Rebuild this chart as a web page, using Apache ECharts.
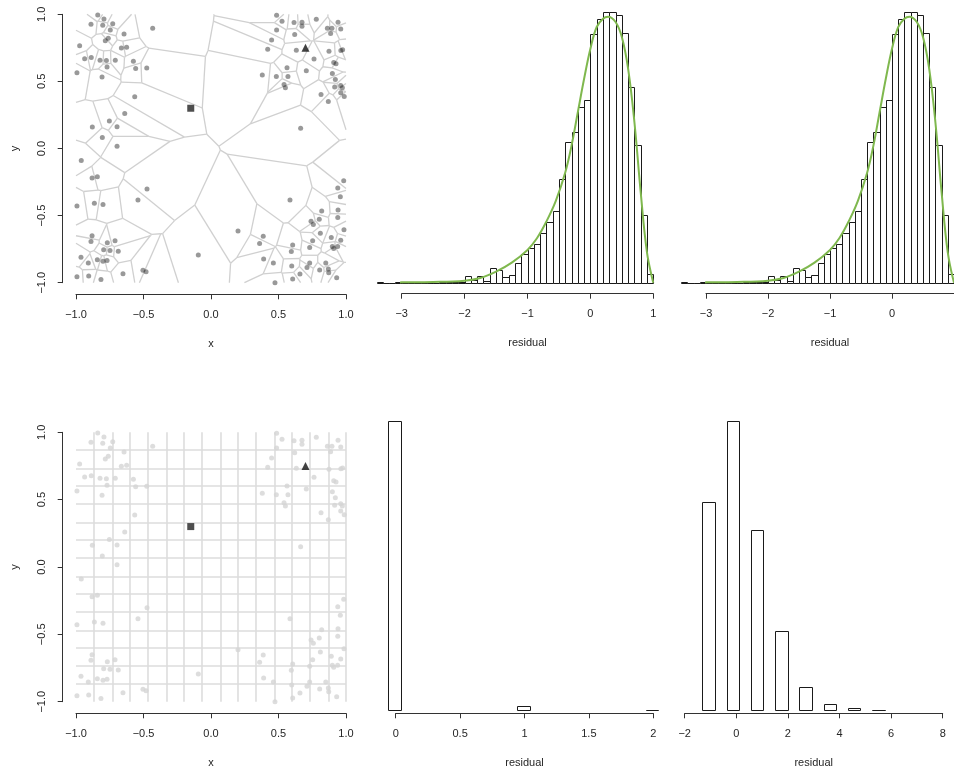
<!DOCTYPE html>
<html><head><meta charset="utf-8">
<script src="https://cdn.jsdelivr.net/npm/echarts@6/dist/echarts.min.js"></script>
<style>html,body{margin:0;padding:0;background:#fff}#c{width:954px;height:772px}</style>
</head><body><div id="c"></div>
<script>
// ---- point locations ----
const pointX = [-0.839,-0.793,-0.889,-0.802,-0.728,-0.746,-0.432,-0.644,-0.761,-0.783,-0.973,-0.664,-0.625,-0.936,-0.887,-0.822,-0.775,-0.709,-0.575,-0.770,-0.558,-0.476,-0.993,-0.807,-0.565,-0.639,-0.753,-0.879,-0.696,-0.805,-0.696,
0.486,0.526,0.615,0.674,0.674,0.780,0.941,0.862,0.896,0.961,0.486,0.886,0.620,0.449,0.420,0.632,0.874,0.962,0.975,0.763,0.909,0.926,0.563,0.706,0.380,0.484,0.570,0.899,0.921,0.541,0.551,0.916,0.961,0.973,0.961,0.987,0.815,0.869,0.664,
-0.961,-0.881,-0.842,-0.474,-0.541,-0.993,-0.864,-0.800,-0.881,-0.889,-0.768,-0.711,-0.795,-0.748,-0.687,-0.963,-0.909,-0.842,-0.800,-0.770,-0.094,-0.993,-0.906,-0.815,-0.652,-0.504,-0.481,
0.983,0.939,0.958,0.585,0.820,0.941,0.939,0.802,0.741,0.758,0.200,0.985,0.810,0.387,0.891,0.961,0.753,0.360,0.605,0.899,0.909,0.938,0.595,0.731,0.390,0.462,0.598,0.731,0.711,0.850,0.805,0.869,0.872,0.659,0.605,0.931,0.474];
const pointY = [0.995,0.965,0.926,0.918,0.930,0.883,0.896,0.854,0.822,0.802,0.765,0.748,0.755,0.668,0.678,0.658,0.656,0.658,0.651,0.607,0.596,0.599,0.564,0.532,0.386,0.260,0.205,0.161,0.163,0.082,0.017,
0.993,0.948,0.938,0.941,0.911,0.963,0.941,0.896,0.896,0.891,0.883,0.856,0.849,0.809,0.740,0.733,0.725,0.730,0.735,0.666,0.641,0.631,0.601,0.579,0.547,0.537,0.537,0.559,0.514,0.477,0.453,0.458,0.470,0.453,0.416,0.388,0.403,0.351,0.151,
-0.089,-0.220,-0.210,-0.302,-0.384,-0.428,-0.408,-0.418,-0.651,-0.693,-0.703,-0.688,-0.755,-0.760,-0.765,-0.811,-0.854,-0.829,-0.841,-0.834,-0.794,-0.955,-0.950,-0.977,-0.933,-0.908,-0.918,
-0.240,-0.295,-0.359,-0.384,-0.465,-0.458,-0.515,-0.527,-0.542,-0.567,-0.614,-0.606,-0.631,-0.653,-0.663,-0.683,-0.688,-0.708,-0.720,-0.730,-0.745,-0.730,-0.767,-0.737,-0.824,-0.854,-0.876,-0.854,-0.886,-0.854,-0.906,-0.898,-0.926,-0.935,-0.972,-0.963,-1.000];
const squarePoint = [-0.15, 0.30];
const trianglePoint = [0.70, 0.75];

// ---- residual histogram (top row) ----
const topBinEdges = [-3.4,-3.3,-3.2,-3.1,-3.0,-2.9,-2.8,-2.7,-2.6,-2.5,-2.4,-2.3,-2.2,-2.1,-2.0,-1.9,-1.8,-1.7,-1.6,-1.5,-1.4,-1.3,-1.2,-1.1,-1.0,-0.9,-0.8,-0.7,-0.6,-0.5,-0.4,-0.3,-0.2,-0.1,0.0,0.1,0.2,0.3,0.4,0.5,0.6,0.7,0.8,0.9,1.0];
const topCounts = [2,0,0,2,0,0,0,0,0.5,0.5,1,1,2,2,21,8,21,4,43,38,17,24,58,85,103,117,148,181,216,310,422,450,526,546,745,789,809,809,802,747,585,412,203,25];
const curveX = [-3.4,-3.0,-2.5,-2.0,-1.75,-1.5,-1.25,-1.0,-0.85,-0.7,-0.55,-0.4,-0.3,-0.2,-0.1,0.0,0.1,0.2,0.28,0.4,0.5,0.6,0.7,0.8,0.9,1.0];
const curveY = [0,1,2,6,14,33,60,98,133,183,245,330,410,510,610,700,765,790,796,780,735,640,480,270,90,0];

// ---- bottom row histograms ----
const bmLeft = [-0.06, 0.94, 1.94];
const bmRight = [0.04, 1.04, 2.04];
const bmCounts = [289, 4.7, 0.7];
const brLeft = [-1.318,-0.372,0.570,1.512,2.442,3.388,4.330,5.270];
const brRight = [-0.826,0.116,1.047,1.992,2.934,3.876,4.810,5.750];
const brCounts = [208,289,180,79,23,6.7,2,0.7];

// regular grid of 15 x 15 cells over [-1, 1]^2
const gridCells = 15;
const gridLineX = [];
for (let k = 1; k <= gridCells; k++) gridLineX.push(-1 + 2 * k / gridCells);
const gridLineY = [];
for (let k = 1; k < gridCells; k++) gridLineY.push(-1 + 2 * k / gridCells);

// Voronoi tessellation computed from the points (half-plane clipping)
function voronoiEdges(xs, ys, x0, x1, y0, y1) {
  const n = xs.length, edges = [];
  for (let i = 0; i < n; i++) {
    let poly = [{x:x0,y:y0,l:-1},{x:x1,y:y0,l:-1},{x:x1,y:y1,l:-1},{x:x0,y:y1,l:-1}];
    for (let j = 0; j < n && poly.length; j++) {
      if (j === i) continue;
      const a = xs[j]-xs[i], b = ys[j]-ys[i];
      if (a === 0 && b === 0) continue;
      const c = a*(xs[i]+xs[j])/2 + b*(ys[i]+ys[j])/2;
      const out = [];
      for (let k = 0; k < poly.length; k++) {
        const cur = poly[k], nxt = poly[(k+1)%poly.length];
        const fc = a*cur.x+b*cur.y-c, fn = a*nxt.x+b*nxt.y-c;
        if (fc <= 0) {
          out.push(cur);
          if (fn > 0) { const t = fc/(fc-fn); out.push({x:cur.x+t*(nxt.x-cur.x), y:cur.y+t*(nxt.y-cur.y), l:j}); }
        } else if (fn <= 0) {
          const t = fc/(fc-fn); out.push({x:cur.x+t*(nxt.x-cur.x), y:cur.y+t*(nxt.y-cur.y), l:cur.l});
        }
      }
      poly = out;
    }
    for (let k = 0; k < poly.length; k++) {
      const cur = poly[k], nxt = poly[(k+1)%poly.length];
      if (cur.l > i) edges.push([cur.x, cur.y, nxt.x, nxt.y]);
    }
  }
  return edges;
}

const pts = pointX.map((x, i) => [x, pointY[i]]);
const vEdges = voronoiEdges(pointX, pointY, -1, 1, -1, 1);
const topBins = topCounts.map((c, i) => [topBinEdges[i], topBinEdges[i+1], c]);
const curve = curveX.map((x, i) => [x, curveY[i]]);
const bmBins = bmCounts.map((c, i) => [bmLeft[i], bmRight[i], c]);
const brBins = brCounts.map((c, i) => [brLeft[i], brRight[i], c]);

const FONT = 'Liberation Sans, Arial, Helvetica, sans-serif';
const TXT = '#262626';
const minus = s => String(s).replace('-', '\u2212');

function dispAxis(grid, min, max, interval, offset, name, fmt, showMax) {
  return {
    type: 'value', gridIndex: grid, min, max, interval, offset, position: 'bottom',
    name, nameLocation: 'middle', nameGap: 44,
    nameTextStyle: {fontFamily: FONT, fontSize: 11, color: TXT},
    axisLine: {show: true, onZero: false, lineStyle: {color: '#333', width: 1}},
    axisTick: {show: true, length: 5, lineStyle: {color: '#333', width: 1}},
    axisLabel: {show: true, margin: 15, fontFamily: FONT, fontSize: 11, color: TXT, formatter: fmt,
      showMaxLabel: showMax === false ? false : true},
    splitLine: {show: false}
  };
}
function yDisp(grid, offset) {
  return {
    type: 'value', gridIndex: grid, min: -1, max: 1, interval: 0.5, offset, position: 'left',
    name: 'y', nameLocation: 'middle', nameGap: 42,
    nameTextStyle: {fontFamily: FONT, fontSize: 11, color: TXT},
    axisLine: {show: true, onZero: false, lineStyle: {color: '#333', width: 1}},
    axisTick: {show: true, length: 5, lineStyle: {color: '#333', width: 1}},
    axisLabel: {show: true, rotate: 90, margin: 15, fontFamily: FONT, fontSize: 11, color: TXT,
      formatter: v => minus(v.toFixed(1))},
    splitLine: {show: false}
  };
}
function yHidden(grid, max) {
  return {type: 'value', gridIndex: grid, min: 0, max, show: false, splitLine: {show: false}};
}
function histRender(params, api) {
  const p0 = api.coord([api.value(0), 0]);
  const p1 = api.coord([api.value(1), api.value(2)]);
  const L = Math.round(p0[0]) + 0.5, R = Math.round(p1[0]) + 0.5;
  const B = Math.round(p0[1]) + 0.5, T = Math.round(p1[1]) + 0.5;
  return {type: 'rect', shape: {x: L, y: T, width: R - L, height: B - T},
    style: {fill: '#fff', stroke: '#1a1a1a', lineWidth: 1}};
}
function histSeries(ax, data) {
  return {type: 'custom', xAxisIndex: ax, yAxisIndex: ax, data, encode: {x: [0, 1], y: 2},
    renderItem: histRender, clip: false, silent: true, z: 2};
}
function curveSeries(ax) {
  return {type: 'line', xAxisIndex: ax, yAxisIndex: ax, data: curve, smooth: 0.4, symbol: 'none',
    clip: false, lineStyle: {color: '#7fb84e', width: 2}, z: 3, silent: true};
}
const sFmt = v => minus(v.toFixed(1));

const option = {
  animation: false,
  backgroundColor: '#ffffff',
  grid: [
    {left: 76, top: 14.3, width: 270, height: 268.4},
    {left: 401.7, top: 12.3, width: 251.6, height: 270.4},
    {left: 706, top: 12.3, width: 250.8, height: 270.4},
    {left: 76, top: 432.3, width: 270, height: 269.4},
    {left: 395.7, top: 421.3, width: 257.6, height: 289},
    {left: 684.7, top: 421.3, width: 258, height: 289}
  ],
  xAxis: [
    dispAxis(0, -1, 1, 0.5, 11.6, 'x', sFmt),
    dispAxis(1, -3, 1, 1, 11, 'residual', v => minus(v)),
    dispAxis(2, -3, 1, 1, 11, 'residual', v => minus(v), false),
    dispAxis(3, -1, 1, 0.5, 11.6, 'x', sFmt),
    dispAxis(4, 0, 2, 0.5, 3, 'residual', v => String(v)),
    dispAxis(5, -2, 8, 2, 3, 'residual', v => minus(v))
  ],
  yAxis: [
    yDisp(0, 13.3),
    yHidden(1, 809),
    yHidden(2, 809),
    yDisp(3, 13.3),
    yHidden(4, 289),
    yHidden(5, 289)
  ],
  series: [
    {type: 'custom', xAxisIndex: 0, yAxisIndex: 0, data: vEdges, encode: {x: [0, 2], y: [1, 3]}, silent: true, z: 1,
      renderItem: (params, api) => {
        const a = api.coord([api.value(0), api.value(1)]);
        const b = api.coord([api.value(2), api.value(3)]);
        return {type: 'line', shape: {x1: a[0], y1: a[1], x2: b[0], y2: b[1]},
          style: {stroke: '#d0d0d0', lineWidth: 1.3}};
      }},
    {type: 'scatter', xAxisIndex: 0, yAxisIndex: 0, data: pts, symbolSize: 5, clip: false, z: 3,
      itemStyle: {color: 'rgba(60,60,60,0.65)'}},
    {type: 'scatter', xAxisIndex: 0, yAxisIndex: 0, data: [squarePoint], symbol: 'rect', symbolSize: 7, z: 4, itemStyle: {color: '#222'}},
    {type: 'scatter', xAxisIndex: 0, yAxisIndex: 0, data: [trianglePoint], symbol: 'triangle', symbolSize: 8, z: 4, itemStyle: {color: '#111'}},
    histSeries(1, topBins), curveSeries(1),
    histSeries(2, topBins), curveSeries(2),
    {type: 'scatter', xAxisIndex: 3, yAxisIndex: 3, data: [], z: 1, silent: true,
      markLine: {silent: true, z: 1, symbol: ['none', 'none'], animation: false, label: {show: false},
        lineStyle: {color: '#dddddd', width: 1.6, type: 'solid'}, emphasis: {disabled: true},
        data: gridLineX.map(v => ({xAxis: v})).concat(gridLineY.map(v => ({yAxis: v})))}},
    {type: 'scatter', xAxisIndex: 3, yAxisIndex: 3, data: pts, symbolSize: 5, clip: false, z: 3,
      itemStyle: {color: '#d4d4d4'}},
    {type: 'scatter', xAxisIndex: 3, yAxisIndex: 3, data: [squarePoint], symbol: 'rect', symbolSize: 7, z: 6, itemStyle: {color: '#222'}},
    {type: 'scatter', xAxisIndex: 3, yAxisIndex: 3, data: [trianglePoint], symbol: 'triangle', symbolSize: 8, z: 6, itemStyle: {color: '#111'}},
    histSeries(4, bmBins),
    histSeries(5, brBins)
  ]
};
const chart = echarts.init(document.getElementById('c'), null, {renderer: 'canvas'});
chart.setOption(option);
</script></body></html>
